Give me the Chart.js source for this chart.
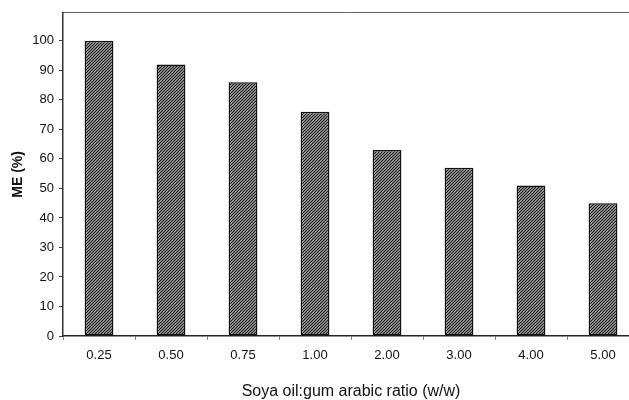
<!DOCTYPE html>
<html>
<head>
<meta charset="utf-8">
<script src="https://cdn.jsdelivr.net/npm/chart.js@4/dist/chart.umd.min.js"></script>
<style>
  html, body { margin: 0; padding: 0; background: #fff; overflow: hidden; }
  #wrap { width: 645px; height: 400px; }
</style>
</head>
<body>
<div id="wrap"><canvas id="c" width="645" height="400"></canvas></div>
<script>
const ratios = ['0.25', '0.50', '0.75', '1.00', '2.00', '3.00', '4.00', '5.00'];
const meValues = [100, 92, 86, 76, 63, 57, 51, 45];
const yTicks = [0, 10, 20, 30, 40, 50, 60, 70, 80, 90, 100];

let makeHatch = function() {
    let tile = document.createElement('canvas');
    tile.width = 3;
    tile.height = 3;
    let t = tile.getContext('2d');
    t.fillStyle = '#fff';
    t.fillRect(0, 0, 3, 3);
    t.strokeStyle = '#111';
    t.lineWidth = 1.4;
    t.beginPath();
    t.moveTo(-1, 4); t.lineTo(4, -1);
    t.moveTo(-1, 1); t.lineTo(1, -1);
    t.moveTo(2, 4); t.lineTo(4, 2);
    t.stroke();
    return t.createPattern(tile, 'repeat');
};

let ctx = document.getElementById('c').getContext('2d');
Chart.defaults.font.family = '"Liberation Sans", Arial, sans-serif';
Chart.defaults.color = '#111';

new Chart(ctx, {
    type: 'bar',
    data: {
        labels: ratios,
        datasets: [{
            data: meValues,
            backgroundColor: makeHatch(),
            borderColor: '#111',
            borderWidth: 1.5,
            borderSkipped: false,
            barPercentage: 0.4,
            categoryPercentage: 1.0
        }]
    },
    options: {
        responsive: false,
        animation: false,
        layout: { padding: { top: 12, right: 6, bottom: 0, left: 0 } },
        plugins: { legend: { display: false }, tooltip: { enabled: false } },
        scales: {
            x: {
                offset: true,
                grid: { drawOnChartArea: false, tickLength: 4, color: '#888', offset: true },
                border: { color: '#222', width: 1.5 },
                ticks: { padding: 8, font: { size: 13 }, color: '#111' },
                title: { display: true, text: 'Soya oil:gum arabic ratio (w/w)', font: { size: 16, lineHeight: 1.0 }, padding: { top: 0, bottom: 0 }, color: '#111' },
                afterFit: function(s) { s.height = 64; }
            },
            x2: {
                position: 'top',
                labels: ratios,
                grid: { display: false },
                ticks: { display: false },
                border: { color: '#666', width: 1, dash: [6, 3] },
                afterFit: function(s) { s.height = 0; }
            },
            y: {
                min: 0,
                max: 109.5,
                afterBuildTicks: function(s) { s.ticks = yTicks.map(v => ({ value: v })); },
                grid: { drawOnChartArea: false, tickLength: 4, color: '#444' },
                border: { color: '#333', width: 1.5 },
                ticks: { padding: 5, font: { size: 13 }, color: '#111' },
                title: { display: true, text: 'ME (%)', font: { size: 14, weight: 'bold' }, padding: { top: 10, bottom: 0 }, color: '#111' },
                afterFit: function(s) { s.width = 63; }
            }
        }
    }
});
</script>
</body>
</html>
